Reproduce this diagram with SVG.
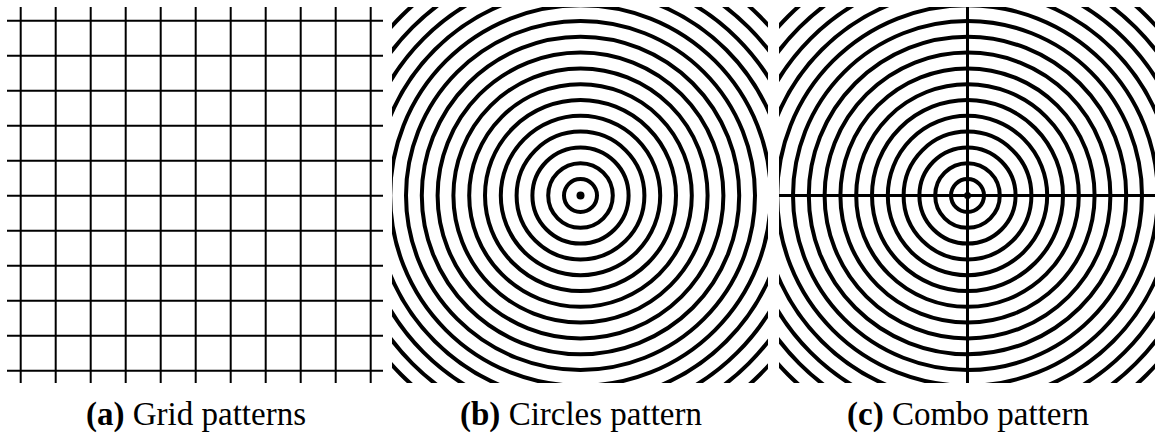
<svg xmlns="http://www.w3.org/2000/svg" xmlns:xlink="http://www.w3.org/1999/xlink" width="1156" height="433" viewBox="0 0 1156 433">
<style>
.g{stroke:#000;stroke-width:2;fill:none}
.r{stroke:#000;stroke-width:4;fill:none}
.x{stroke:#000;stroke-width:3}
.cap{font-family:"Liberation Serif","DejaVu Serif",serif;font-size:33px;fill:#000;text-anchor:middle}
.b{font-weight:bold}
</style>
<defs>
<clipPath id="cb"><rect x="392" y="7" width="376" height="376"/></clipPath>
<clipPath id="cc"><rect x="779" y="7" width="376" height="376"/></clipPath>
<g id="rings">
<circle r="16.5"/><circle r="32.3"/><circle r="48.1"/><circle r="63.9"/><circle r="79.7"/><circle r="95.5"/><circle r="111.3"/><circle r="127.1"/><circle r="142.9"/><circle r="158.7"/><circle r="174.5"/><circle r="190.3"/><circle r="206.1"/><circle r="221.9"/><circle r="237.7"/><circle r="253.5"/><circle r="269.3"/>
</g>
</defs>
<rect width="1156" height="433" fill="#fff"/>
<g id="grid" class="g">
<path d="M20.7 7V383M55.7 7V383M90.7 7V383M125.7 7V383M160.7 7V383M195.7 7V383M230.7 7V383M265.7 7V383M300.7 7V383M335.7 7V383M370.7 7V383"/>
<path d="M7 20.7H383M7 55.7H383M7 90.7H383M7 125.7H383M7 160.7H383M7 195.7H383M7 230.7H383M7 265.7H383M7 300.7H383M7 335.7H383M7 370.7H383"/>
</g>
<g id="circles" clip-path="url(#cb)">
<use xlink:href="#rings" href="#rings" class="r" transform="translate(580.5 195.5)"/>
<circle cx="580.5" cy="195.5" r="4" fill="#000"/>
</g>
<g id="combo" clip-path="url(#cc)">
<use xlink:href="#rings" href="#rings" class="r" transform="translate(967.5 195.5)"/>
<line class="x" x1="779" y1="195.5" x2="1155" y2="195.5"/>
<line class="x" x1="967.5" y1="7" x2="967.5" y2="383"/>
<circle cx="967.5" cy="195.5" r="3.5" fill="#000"/>
</g>
<g id="captions">
<text class="cap" x="196" y="425"><tspan class="b">(a)</tspan> Grid patterns</text>
<text class="cap" x="581" y="425"><tspan class="b">(b)</tspan> Circles pattern</text>
<text class="cap" x="968" y="425"><tspan class="b">(c)</tspan> Combo pattern</text>
</g>
</svg>
